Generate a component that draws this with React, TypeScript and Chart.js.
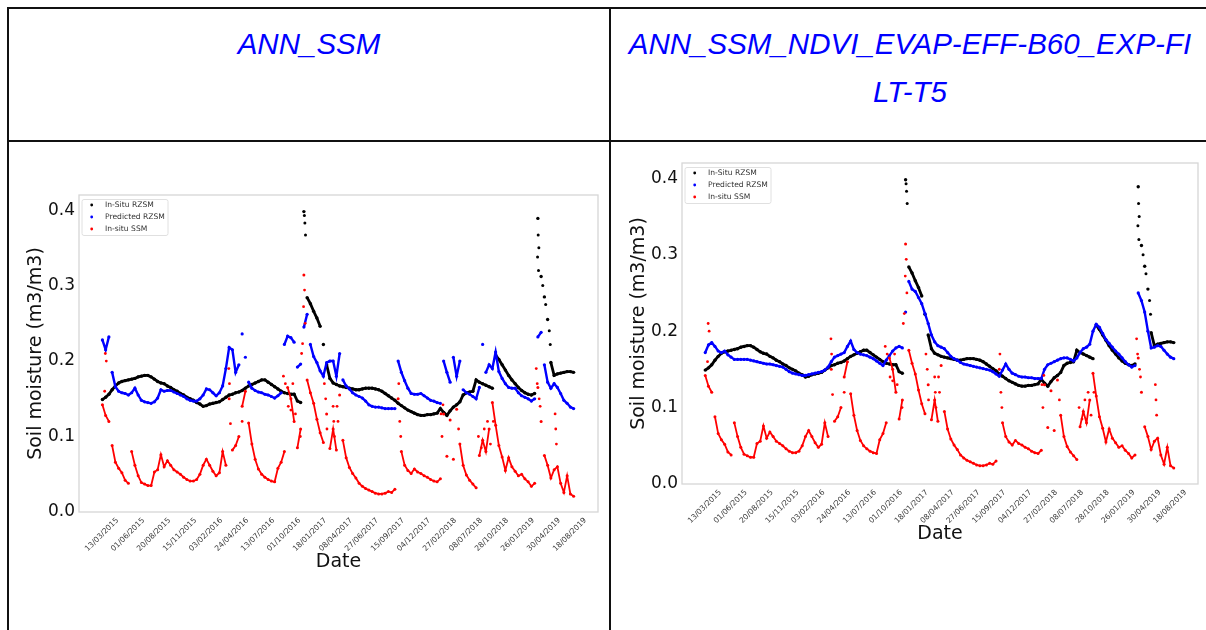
import React, { useEffect, useRef } from "react";
import { Chart, registerables } from "chart.js";

Chart.register(...registerables);

// ---------- data ----------
const dateLabels = [
  "13/03/2015", "01/06/2015", "20/08/2015", "15/11/2015", "03/02/2016",
  "24/04/2016", "13/07/2016", "01/10/2016", "18/01/2017", "08/04/2017",
  "27/06/2017", "15/09/2017", "04/12/2017", "27/02/2018", "08/07/2018",
  "28/10/2018", "26/01/2019", "30/04/2019", "18/08/2019",
];
const SAMPLES_PER_TICK = 8;
const yTicks = [0, 0.1, 0.2, 0.3, 0.4];
const seriesNames = ["In-Situ RZSM", "Predicted RZSM", "In-situ SSM"];
const panelTitles = ["ANN_SSM", "ANN_SSM_NDVI_EVAP-EFF-B60_EXP-FI\nLT-T5"];

// In-situ root-zone soil moisture (same in both panels)
const insituRzsm = [
  0.149, 0.152, 0.156, 0.162, 0.167, 0.171, 0.173, 0.174, 0.175, 0.176,
  0.177, 0.179, 0.180, 0.181, 0.181, 0.179, 0.176, 0.173, 0.171, 0.170,
  0.167, 0.165, 0.162, 0.160, 0.157, 0.155, 0.152, 0.150, 0.148, 0.145,
  0.143, 0.140, 0.141, 0.143, 0.144, 0.145, 0.146, 0.149, 0.152, 0.155,
  0.156, 0.158, 0.159, 0.161, 0.164, 0.167, 0.169, 0.171, 0.173, 0.175,
  0.175, 0.172, 0.169, 0.166, 0.163, 0.160, 0.158, 0.157, 0.156, 0.156,
  0.147, 0.145, 0.398, 0.284, 0.276, 0.266, 0.257, 0.246, 0.222, 0.195,
  0.177, 0.171, 0.169, 0.167, 0.166, 0.165, 0.164, 0.163, 0.162, 0.162,
  0.163, 0.164, 0.164, 0.164, 0.163, 0.162, 0.160, 0.157, 0.154, 0.151,
  0.148, 0.144, 0.141, 0.138, 0.135, 0.133, 0.131, 0.129, 0.128, 0.128,
  0.129, 0.129, 0.130, 0.131, 0.137, 0.132, 0.128, 0.134, 0.139, 0.142,
  0.146, 0.155, 0.158, 0.159, 0.160, 0.175, 0.172, 0.170, 0.168, 0.166,
  0.164, 0.208, 0.202, 0.195, 0.188, 0.181, 0.175, 0.170, 0.165, 0.161,
  0.158, 0.156, 0.155, 0.157, 0.389, 0.312, 0.285, 0.255, 0.198, 0.181,
  0.183, 0.184, 0.185, 0.186, 0.186, 0.185,
];
const rzsmSpikeIdx = [62.15, 62.3, 62.5, 134.1, 134.3, 133.9, 134.2, 135.5, 136.4, 137.5, 137.8];
const rzsmSpikeVal = [0.393, 0.383, 0.367, 0.367, 0.35, 0.338, 0.32, 0.3, 0.275, 0.24, 0.222];

// In-situ surface soil moisture (same in both panels)
const insituSsm = [
  0.142, 0.128, 0.120, 0.088, 0.066, 0.058, 0.052, 0.042, 0.038, 0.080,
  0.062, 0.048, 0.039, 0.037, 0.035, 0.035, 0.053, 0.056, 0.076, 0.060,
  0.068, 0.062, 0.056, 0.053, 0.050, 0.046, 0.043, 0.041, 0.041, 0.043,
  0.050, 0.062, 0.070, 0.062, 0.054, 0.048, 0.052, 0.080, 0.062, 0.150,
  0.082, 0.088, 0.100, 0.140, 0.160, 0.118, 0.090, 0.070, 0.057, 0.050,
  0.046, 0.043, 0.041, 0.040, 0.058, 0.066, 0.080, 0.165, 0.150, 0.120,
  0.085, 0.110, 0.314, 0.175, 0.158, 0.144, 0.123, 0.105, 0.092, 0.130,
  0.084, 0.110, 0.082, 0.155, 0.095, 0.072, 0.059, 0.051, 0.045, 0.038,
  0.034, 0.031, 0.029, 0.027, 0.025, 0.024, 0.024, 0.025, 0.027, 0.026,
  0.030, 0.150, 0.080, 0.062, 0.055, 0.051, 0.057, 0.053, 0.051, 0.048,
  0.046, 0.043, 0.041, 0.040, 0.044, 0.130, 0.074, 0.122, 0.070, 0.136,
  0.090, 0.062, 0.049, 0.042, 0.037, 0.032, 0.075, 0.095, 0.080, 0.110,
  0.145, 0.115, 0.088, 0.073, 0.055, 0.072, 0.060, 0.054, 0.048, 0.050,
  0.044, 0.040, 0.034, 0.038, 0.165, 0.120, 0.075, 0.062, 0.045, 0.056,
  0.060, 0.038, 0.026, 0.048, 0.024, 0.021,
];
const ssmScatterIdx = [
  0.7, 0.9, 1.2, 38.9, 39.1, 39.4, 43.0, 55.7, 56.3, 57.2, 58.0, 58.6, 59.4, 60.9, 61.3, 61.6,
  61.9, 62.2, 62.4, 68.3, 68.7, 69.1, 71.0, 71.2, 71.4, 72.2, 72.5, 91.2, 91.5, 91.8, 104.2,
  104.5, 104.8, 109.6, 115.7, 116.6, 117.5, 118.5, 119.4, 120.3, 133.5, 133.8, 134.4, 134.7,
  139.3, 139.5, 139.7,
];
const ssmScatterVal = [
  0.16, 0.21, 0.2, 0.19, 0.17, 0.117, 0.12, 0.18, 0.17, 0.14, 0.135, 0.17, 0.13, 0.1, 0.21, 0.223,
  0.272, 0.294, 0.25, 0.17, 0.15, 0.11, 0.14, 0.12, 0.1, 0.14, 0.12, 0.17, 0.12, 0.1, 0.13,
  0.1, 0.142, 0.11, 0.1, 0.085, 0.11, 0.12, 0.09, 0.12, 0.19, 0.17, 0.15, 0.14,
  0.13, 0.11, 0.09,
];

// Predicted RZSM, model ANN_SSM
const predictedAnnSsm = [
  0.228, 0.215, 0.232, 0.185, 0.166, 0.160, 0.158, 0.157, 0.155, 0.158,
  0.164, 0.155, 0.148, 0.146, 0.145, 0.144, 0.146, 0.151, 0.162, 0.160,
  0.161, 0.161, 0.159, 0.157, 0.155, 0.153, 0.150, 0.148, 0.147, 0.147,
  0.150, 0.155, 0.163, 0.162, 0.158, 0.154, 0.158, 0.167, 0.190, 0.218,
  0.215, 0.185, 0.195, 0.236, 0.205, 0.172, 0.164, 0.161, 0.159, 0.158,
  0.156, 0.155, 0.153, 0.151, 0.154, 0.158, 0.222, 0.233, 0.231, 0.225,
  0.192, 0.196, 0.245, 0.262, 0.222, 0.206, 0.198, 0.187, 0.180, 0.198,
  0.200, 0.200, 0.180, 0.210, 0.175, 0.167, 0.163, 0.158, 0.155, 0.153,
  0.151, 0.147, 0.142, 0.140, 0.139, 0.139, 0.138, 0.137, 0.137, 0.137,
  0.137, 0.200, 0.185, 0.174, 0.164, 0.157, 0.156, 0.156, 0.157, 0.154,
  0.151, 0.148, 0.147, 0.145, 0.144, 0.200, 0.185, 0.172, 0.205, 0.180,
  0.200, 0.162, 0.158, 0.156, 0.153, 0.150, 0.165, 0.222, 0.185, 0.195,
  0.190, 0.212, 0.186, 0.177, 0.170, 0.165, 0.164, 0.164, 0.158, 0.154,
  0.152, 0.150, 0.147, 0.150, 0.232, 0.238, 0.195, 0.172, 0.164, 0.170,
  0.165, 0.157, 0.148, 0.144, 0.139, 0.137,
];

// Predicted RZSM, model ANN_SSM_NDVI_EVAP-EFF-B60_EXP-FILT-T5
const predictedAnnSsmNdvi = [
  0.172, 0.182, 0.185, 0.180, 0.174, 0.172, 0.174, 0.169, 0.166, 0.163,
  0.163, 0.163, 0.163, 0.163, 0.162, 0.161, 0.160, 0.159, 0.158, 0.157,
  0.157, 0.156, 0.155, 0.154, 0.153, 0.150, 0.147, 0.145, 0.144, 0.143,
  0.142, 0.142, 0.143, 0.144, 0.145, 0.146, 0.147, 0.149, 0.153, 0.160,
  0.166, 0.168, 0.170, 0.172, 0.180, 0.187, 0.176, 0.172, 0.170, 0.169,
  0.168, 0.166, 0.164, 0.161, 0.158, 0.155, 0.162, 0.168, 0.174, 0.178,
  0.180, 0.178, 0.225, 0.265, 0.255, 0.252, 0.244, 0.236, 0.223, 0.210,
  0.195, 0.186, 0.181, 0.179, 0.177, 0.172, 0.167, 0.164, 0.162, 0.159,
  0.157, 0.156, 0.155, 0.154, 0.153, 0.152, 0.151, 0.150, 0.149, 0.147,
  0.144, 0.141, 0.149, 0.157, 0.150, 0.145, 0.143, 0.141, 0.140, 0.140,
  0.139, 0.139, 0.138, 0.138, 0.138, 0.150, 0.156, 0.158, 0.160, 0.162,
  0.164, 0.165, 0.165, 0.163, 0.161, 0.165, 0.172, 0.177, 0.179, 0.183,
  0.200, 0.209, 0.205, 0.197, 0.189, 0.184, 0.179, 0.174, 0.170, 0.165,
  0.160, 0.156, 0.153, 0.155, 0.250, 0.240, 0.225, 0.200, 0.178, 0.179,
  0.181, 0.180, 0.175, 0.170, 0.166, 0.164,
];

// ---------- chart ----------
const FONT = "'DejaVu Sans', sans-serif";
const Y_AXIS_W = 67;
const X_AXIS_H = 68;
const PAD_TOP = 25;
const PAD_RIGHT = 10;

const framePlugin = {
  id: "frameAndLegend",
  beforeDatasetsDraw(chart: any) {
    const { ctx, chartArea: a } = chart;
    ctx.save();
    ctx.strokeStyle = "#d6d6d6";
    ctx.lineWidth = 1.3;
    ctx.strokeRect(a.left, a.top, a.right - a.left, a.bottom - a.top);
    ctx.restore();
  },
  afterDatasetsDraw(chart: any) {
    const { ctx, chartArea: a } = chart;
    const bx = a.left + 3;
    const by = a.top + 4.5;
    const bw = 86;
    const bh = 36;
    ctx.save();
    ctx.beginPath();
    ctx.roundRect(bx, by, bw, bh, 2);
    ctx.fillStyle = "rgba(255,255,255,0.85)";
    ctx.fill();
    ctx.strokeStyle = "#e0e0e0";
    ctx.lineWidth = 1;
    ctx.stroke();
    const entries = chart.data.datasets.filter((d: any) => d.legendEntry);
    entries.forEach((d: any, k: number) => {
      const y = by + 5.5 + k * 12;
      ctx.fillStyle = d.pointBackgroundColor;
      ctx.beginPath();
      ctx.arc(bx + 9.7, y, 1.4, 0, Math.PI * 2);
      ctx.fill();
      ctx.fillStyle = "#333";
      ctx.font = `7.6px ${FONT}`;
      ctx.textBaseline = "middle";
      ctx.textAlign = "left";
      ctx.fillText(d.label, bx + 23, y);
    });
    ctx.restore();
  },
};

type Frame = { x0: number; y0: number; x1: number; y1: number };

function SoilChart({ predicted, frame }: { predicted: number[]; frame: Frame }) {
  const ref = useRef<HTMLCanvasElement | null>(null);
  const left = frame.x0 - Y_AXIS_W;
  const top = frame.y0 - PAD_TOP;
  const width = frame.x1 - frame.x0 + Y_AXIS_W + PAD_RIGHT;
  const height = frame.y1 - frame.y0 + PAD_TOP + X_AXIS_H;

  useEffect(() => {
    if (!ref.current) return;
    const series = (arr: number[]) => arr.map((v, i) => ({ x: i, y: v }));
    const pairs = (ix: number[], vals: number[]) => ix.map((x, k) => ({ x, y: vals[k] }));
    const mk = (
      label: string, data: any[], color: string, r: number, bw: number,
      line: boolean, order: number, legend: boolean, jump: number,
    ) => ({
      label,
      data,
      showLine: line,
      borderColor: color,
      backgroundColor: color,
      pointBackgroundColor: color,
      pointBorderWidth: 0,
      pointRadius: r,
      pointHoverRadius: r,
      borderWidth: bw,
      order,
      legendEntry: legend,
      segment: {
        borderColor: (c: any) =>
          Math.abs(c.p1.parsed.y - c.p0.parsed.y) > jump ? "rgba(0,0,0,0)" : color,
      },
    });
    const datasets = [
      mk(seriesNames[0], series(insituRzsm), "#000000", 1.7, 2.8, true, 3, true, 0.02),
      mk(seriesNames[1], series(predicted), "#0000ff", 1.6, 2.4, true, 2, true, 0.03),
      mk(seriesNames[2], series(insituSsm), "#ff0000", 1.5, 1.8, true, 1, true, 0.03),
      mk(seriesNames[0], pairs(rzsmSpikeIdx, rzsmSpikeVal), "#000000", 1.5, 0, false, 3, false, 0),
      mk(seriesNames[2], pairs(ssmScatterIdx, ssmScatterVal), "#ff0000", 1.4, 0, false, 1, false, 0),
    ];
    const chart = new Chart(ref.current, {
      type: "scatter",
      data: { datasets } as any,
      plugins: [framePlugin],
      options: {
        responsive: false,
        animation: false,
        devicePixelRatio: 1,
        layout: { padding: { top: PAD_TOP, right: PAD_RIGHT, left: 0, bottom: 0 } },
        plugins: { legend: { display: false }, tooltip: { enabled: false } },
        events: [],
        scales: {
          x: {
            type: "linear",
            min: -7.2,
            max: 152.5,
            afterBuildTicks: (s: any) => {
              s.ticks = dateLabels.map((_, k) => ({ value: k * SAMPLES_PER_TICK }));
            },
            afterFit: (s: any) => {
              s.height = X_AXIS_H;
            },
            grid: { display: false, drawTicks: false, tickLength: 0 },
            border: { display: false },
            ticks: {
              autoSkip: false,
              minRotation: 45,
              maxRotation: 45,
              padding: 4,
              labelOffset: 15,
              color: "#3a3a3a",
              font: { family: FONT, size: 7.6 },
              callback: (v: any) => dateLabels[Math.round(Number(v) / SAMPLES_PER_TICK)] ?? "",
            },
            title: {
              display: true,
              text: "Date",
              color: "#111",
              font: { family: FONT, size: 19 },
              padding: { top: 0, bottom: 7 },
            },
          },
          y: {
            min: 0,
            max: 0.42,
            afterBuildTicks: (s: any) => {
              s.ticks = yTicks.map((v) => ({ value: v }));
            },
            afterFit: (s: any) => {
              s.width = Y_AXIS_W;
            },
            grid: { display: false, drawTicks: false, tickLength: 0 },
            border: { display: false },
            ticks: {
              padding: 4,
              color: "#111",
              font: { family: FONT, size: 17 },
              callback: (v: any) => Number(v).toFixed(1),
            },
            title: {
              display: true,
              text: "Soil moisture (m3/m3)",
              color: "#111",
              font: { family: FONT, size: 19 },
              padding: { top: 13, bottom: 0 },
            },
          },
        },
      } as any,
    });
    return () => chart.destroy();
  }, [predicted]);

  return (
    <canvas
      ref={ref}
      width={width}
      height={height}
      style={{ position: "absolute", left, top, width, height }}
    />
  );
}

const BORDER = "#111";

export default function App() {
  const titleStyle: React.CSSProperties = {
    position: "absolute",
    top: 20,
    textAlign: "center",
    fontFamily: "'Liberation Sans', Arial, sans-serif",
    fontStyle: "italic",
    fontSize: 29.5,
    lineHeight: "48px",
    color: "#0000ff",
    whiteSpace: "pre",
  };
  return (
    <div style={{ position: "relative", width: 1206, height: 630, overflow: "hidden", background: "#fff" }}>
      <style>{`body{margin:0;overflow:hidden;}`}</style>
      <div style={{ position: "absolute", left: 7, top: 7, width: 1220, height: 2, background: BORDER }} />
      <div style={{ position: "absolute", left: 7, top: 140, width: 1220, height: 2, background: BORDER }} />
      <div style={{ position: "absolute", left: 7, top: 7, width: 2, height: 640, background: BORDER }} />
      <div style={{ position: "absolute", left: 609, top: 7, width: 2, height: 640, background: BORDER }} />
      <div style={{ ...titleStyle, left: 9, width: 600 }}>{panelTitles[0]}</div>
      <div style={{ ...titleStyle, left: 611, width: 598 }}>{panelTitles[1]}</div>
      <SoilChart predicted={predictedAnnSsm} frame={{ x0: 79, y0: 195, x1: 598, y1: 512 }} />
      <SoilChart predicted={predictedAnnSsmNdvi} frame={{ x0: 682, y0: 163, x1: 1198, y1: 484 }} />
    </div>
  );
}
